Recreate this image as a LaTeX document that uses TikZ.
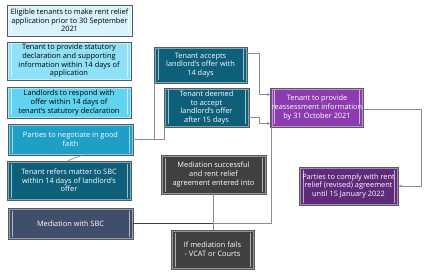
\documentclass[tikz,border=0pt]{standalone}
\usepackage{fontspec}
\setmainfont{Open Sans}
\usetikzlibrary{arrows.meta}

\begin{document}
\begin{tikzpicture}[x=1pt,y=-1pt,
    >={Latex[length=3pt,width=3pt]},
    procbox/.style={rectangle, draw=borderColour, line width=0.7pt, align=center,
        inner sep=1pt, font=\fontsize{7.4}{8.7}\selectfont,
        path picture={
            \draw[white,opacity=0.45,line width=0.5pt]
                ([shift={(1.2pt,-1.2pt)}]path picture bounding box.north west) rectangle
                ([shift={(-1.2pt,1.2pt)}]path picture bounding box.south east);
            \draw[white,opacity=0.6,line width=0.8pt]
                ([shift={(4pt,-2.5pt)}]path picture bounding box.north west) --
                ([shift={(4pt,2.5pt)}]path picture bounding box.south west);
            \draw[white,opacity=0.6,line width=0.8pt]
                ([shift={(-4pt,-2.5pt)}]path picture bounding box.north east) --
                ([shift={(-4pt,2.5pt)}]path picture bounding box.south east);
        }},
    link/.style={draw=lineColour, line width=0.6pt}]
    % Define colours
    \definecolor{borderColour}{HTML}{5A5A5A}
    \definecolor{lineColour}{HTML}{8C8C8C}
    \definecolor{paleBlue}{HTML}{D6F3FB}
    \definecolor{lightBlue}{HTML}{8FE1F7}
    \definecolor{skyBlue}{HTML}{5FD3EF}
    \definecolor{midBlue}{HTML}{1F9FC7}
    \definecolor{darkTeal}{HTML}{0E5F79}
    \definecolor{slate}{HTML}{3F4F69}
    \definecolor{lightPurple}{HTML}{8D3CAF}
    \definecolor{darkPurple}{HTML}{5E2A7A}
    \definecolor{darkGrey}{HTML}{404040}

    % Fix the picture size
    \useasboundingbox (0,0) rectangle (427,275);

    % Left column of steps
    \node[procbox, fill=paleBlue, minimum width=125, minimum height=31] (eligible) at (69.5,20.5)
        {Eligible tenants to make rent relief\\application prior to 30 September\\2021};
    \node[procbox, fill=lightBlue, minimum width=124, minimum height=38] (declaration) at (69,61)
        {Tenant to provide statutory\\declaration and supporting\\information within 14 days of\\application};
    \node[procbox, fill=skyBlue, minimum width=124, minimum height=31] (respond) at (69,102.5)
        {Landlords to respond with\\offer within 14 days of\\tenant's statutory declaration};
    \node[procbox, fill=midBlue, text=white, minimum width=125, minimum height=31] (negotiate) at (70.5,139.5)
        {Parties to negotiate in good\\faith};
    \node[procbox, fill=darkTeal, text=white, minimum width=124, minimum height=39] (refers) at (69,180.5)
        {Tenant refers matter to SBC\\within 14 days of landlord's\\offer};
    \node[procbox, fill=slate, text=white, minimum width=125, minimum height=31] (mediation) at (70.5,223.5)
        {Mediation with SBC};

    % Middle column
    \node[procbox, fill=darkTeal, text=white, minimum width=93, minimum height=36] (accepts) at (200.5,65)
        {Tenant accepts\\landlord's offer with\\14 days};
    \node[procbox, fill=darkTeal, text=white, minimum width=85, minimum height=39] (deemed) at (206.5,107.5)
        {Tenant deemed\\to accept\\landlord's offer\\after 15 days};
    \node[procbox, fill=darkGrey, text=white, minimum width=105, minimum height=39] (success) at (213.5,174.5)
        {Mediation successful\\and rent relief\\agreement entered into};
    \node[procbox, fill=darkGrey, text=white, minimum width=83, minimum height=39] (fails) at (212.5,249.5)
        {If mediation fails\\- VCAT or Courts};

    % Right column
    \node[procbox, fill=lightPurple, text=white, minimum width=90, minimum height=39] (reassess) at (317,107.5)
        {Tenant to provide\\reassessment information\\by 31 October 2021};
    \node[procbox, fill=darkPurple, text=white, minimum width=99, minimum height=38] (comply) at (348.5,186)
        {Parties to comply with rent\\relief (revised) agreement\\until 15 January 2022};

    % Connectors
    \draw[link] ([xshift=-1pt]negotiate.south) ++(12,0) -- ([xshift=-1pt]refers.north);
    \draw[link] (negotiate.east) -| ([xshift=1pt]accepts.south west);
    \draw[link] (negotiate.east) -| ([xshift=1pt]deemed.south west);
    \draw[link,->] ([yshift=12pt]accepts.east) -- ++(12,0) |- ([yshift=13pt]reassess.west);
    \draw[link,->] ([yshift=-10pt]deemed.east) -- ++(10,0) |- ([yshift=-16pt]reassess.west);
    \draw[link,->] ([yshift=-2pt]reassess.east) -- ++(58,0) |- (comply.east);
    \draw[link] (mediation.east) -| ([xshift=0.5pt]reassess.south west);
    \draw[link,draw=black!75] (mediation.east) -- (mediation.east -| success.south);
    \draw[link] (success.south) -- (success.south |- fails.north);

\end{tikzpicture}
\end{document}
